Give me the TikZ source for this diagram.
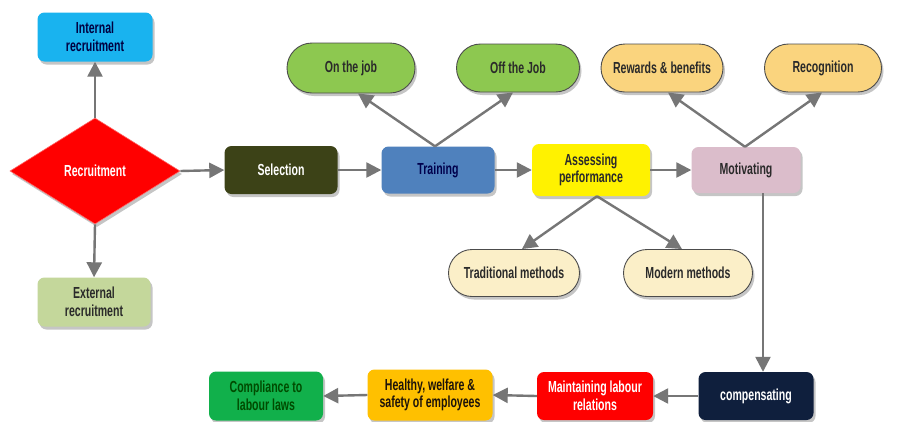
\documentclass[tikz,border=0pt]{standalone}
\usepackage{fontspec}
\setmainfont{Liberation Sans}[FakeStretch=0.66]
\usetikzlibrary{shapes.geometric,shapes.misc,shadows,arrows.meta,calc}
\definecolor{intc}{HTML}{19B3EF}
\definecolor{extc}{HTML}{C4D79B}
\definecolor{selc}{HTML}{3C4217}
\definecolor{trac}{HTML}{4F81BD}
\definecolor{motc}{HTML}{DBBDCB}
\definecolor{grnc}{HTML}{8DC850}
\definecolor{orgc}{HTML}{FAD47E}
\definecolor{crmc}{HTML}{FBEFC8}
\definecolor{navc}{HTML}{0F1F3D}
\definecolor{heac}{HTML}{FFC000}
\definecolor{comc}{HTML}{11B04B}
\definecolor{txtc}{HTML}{2A2A2A}
\definecolor{arrc}{HTML}{767676}
\tikzset{
  base/.style={font=\fontsize{16}{17.5}\selectfont\bfseries, align=center, inner sep=0pt, text=txtc,
    drop shadow={opacity=0.45, shadow xshift=2pt, shadow yshift=-3pt}},
  box/.style={base, rectangle, rounded corners=7pt},
  pill/.style={base, rounded rectangle, draw=black!70, line width=0.9pt},
  conn/.style={draw=arrc, line width=2.4pt, -{Triangle[length=15pt,width=15pt]}},
}
\begin{document}
\begin{tikzpicture}[x=1pt,y=-1pt]
\useasboundingbox (0,0) rectangle (907,421);
\fill[white] (0,0) rectangle (907,421);
% main row
\node[box, fill=intc, minimum width=115, minimum height=49, text=black!75!blue] (int) at (95,37) {Internal\\recruitment};
\node[base, diamond, aspect=1.6, fill=red, draw=red!60!white, line width=0.6pt, text=white, minimum width=170, minimum height=106] (rec) at (95,171) {Recruitment};
\node[box, fill=extc, minimum width=113, minimum height=49] (ext) at (94,302) {External\\recruitment};
\node[box, fill=selc, minimum width=113, minimum height=48, text=white] (sel) at (281,170) {Selection};
\node[box, fill=trac, minimum width=113, minimum height=47, text=black!70!blue] (tra) at (438,170) {Training};
\node[box, fill=yellow, minimum width=118, minimum height=52] (ass) at (591,170) {Assessing\\performance};
\node[box, fill=motc, minimum width=109, minimum height=46] (mot) at (746,170) {Motivating};
% pills
\node[pill, fill=grnc, minimum width=128, minimum height=50] (onj) at (351,68) {On the job};
\node[pill, fill=grnc, minimum width=123, minimum height=48] (offj) at (518,68) {Off the Job};
\node[pill, fill=orgc, minimum width=122, minimum height=48] (rew) at (662,68) {Rewards \& benefits};
\node[pill, fill=orgc, minimum width=117, minimum height=48] (rcg) at (823,68) {Recognition};
\node[pill, fill=crmc, minimum width=131, minimum height=47] (trad) at (514,273) {Traditional methods};
\node[pill, fill=crmc, minimum width=129, minimum height=47] (mod) at (688,273) {Modern methods};
% bottom row
\node[box, fill=navc, minimum width=115, minimum height=48, text=white] (cmp) at (756,396) {compensating};
\node[box, fill=red, minimum width=116, minimum height=48, text=white] (mlr) at (595,396) {Maintaining labour\\relations};
\node[box, fill=heac, minimum width=125, minimum height=51, text=black!85!brown] (hea) at (430,395) {Healthy, welfare \&\\safety of employees};
\node[box, fill=comc, minimum width=114, minimum height=49, text=black!70!green] (cpl) at (266,396) {Compliance to\\labour laws};
% connectors
\draw[conn] (rec.north) -- (int.south);
\draw[conn] (rec.south) -- (ext.north);
\draw[conn] (rec.east) -- (sel.west);
\draw[conn] (sel.east) -- (tra.west);
\draw[conn] (tra.east) -- (ass.west);
\draw[conn] (ass.east) -- (mot.west);
\draw[conn] ([xshift=-3pt]tra.north) -- ([xshift=7pt]onj.south);
\draw[conn] ([xshift=-3pt]tra.north) -- ([xshift=-5pt]offj.south);
\draw[conn] ([xshift=-1pt]mot.north) -- ([xshift=6pt]rew.south);
\draw[conn] ([xshift=-1pt]mot.north) -- ([xshift=-1pt]rcg.south);
\draw[conn] ([xshift=6pt]ass.south) -- ([xshift=8pt]trad.north);
\draw[conn] ([xshift=6pt]ass.south) -- ([xshift=-6pt]mod.north);
\draw[conn] ([xshift=17pt]mot.south) -- ([xshift=7pt]cmp.north);
\draw[conn] (cmp.west) -- (mlr.east);
\draw[conn] (mlr.west) -- (hea.east);
\draw[conn] (hea.west) -- (cpl.east);
\end{tikzpicture}
\end{document}
